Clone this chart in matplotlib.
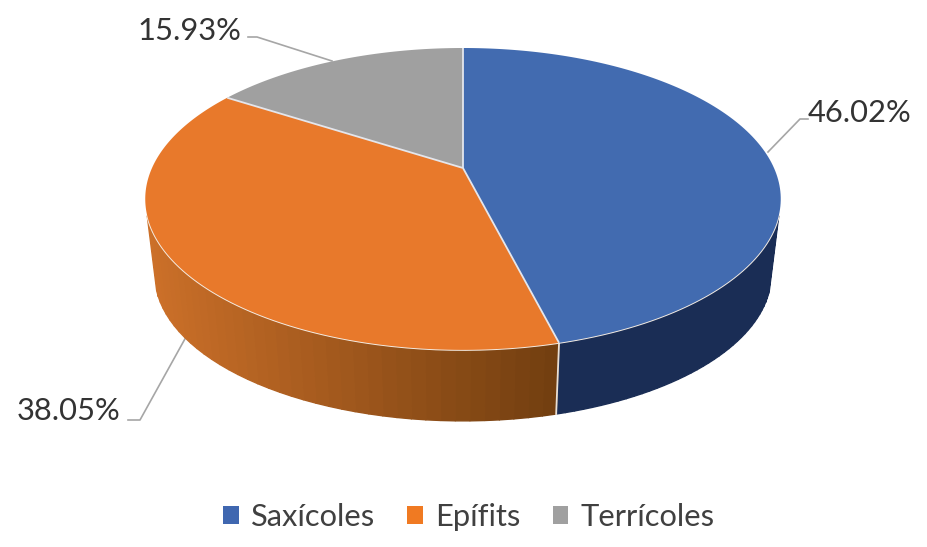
import numpy as np
import matplotlib
matplotlib.use('Agg')
import matplotlib.pyplot as plt
from matplotlib.patches import Patch
from matplotlib.colors import to_rgb

labels = ['Saxícoles', 'Epífits', 'Terrícoles']
values = [46.02, 38.05, 15.93]
value_text = ['46.02%', '38.05%', '15.93%']
top_colors = ['#426BB0', '#E8792B', '#A0A0A0']
wall_left = ['#1A2D55', '#CC7029', '#8a8a8a']
wall_right = ['#1A2D55', '#733F10', '#8a8a8a']
legend_colors = ['#3F67B0', '#F07A22', '#A0A0A0']

text_color = '#333333'
line_color = '#A6A6A6'

plt.rcParams['font.family'] = ['Lato', 'DejaVu Sans']


def project(theta):
    # clockwise from the top, tilted disc seen in perspective
    k = 0.205
    x = np.sin(theta)
    y = np.cos(theta)
    w = 1 + k * y
    return 463 + 311 * x / w, 168 - 144.6 * y / w


def lower(px, py):
    return 463 + 0.97 * (px - 463), 0.97 * py + 81.5


fig = plt.figure(figsize=(9.28, 5.47), dpi=100)
ax = fig.add_axes([0, 0, 1, 1])
ax.set_xlim(0, 928)
ax.set_ylim(547, 0)
ax.axis('off')

edges = np.radians(np.concatenate([[0], np.cumsum(values)]) * 3.6)

# side walls, only the near part shows
for i in range(len(values)):
    t0 = max(edges[i], np.radians(108))
    t1 = min(edges[i + 1], np.radians(252))
    if t1 <= t0:
        continue
    ts = np.linspace(t0, t1, 40)
    px, py = project(ts)
    qx, qy = lower(px, py)
    c0 = np.array(to_rgb(wall_left[i]))
    c1 = np.array(to_rgb(wall_right[i]))
    for j in range(len(ts) - 1):
        f = (px[j] - px.min()) / max(px.max() - px.min(), 1)
        col = c0 * (1 - f) + c1 * f
        ax.fill([px[j], px[j + 1], qx[j + 1], qx[j]], [py[j], py[j + 1], qy[j + 1], qy[j]],
                color=col, lw=1.0, zorder=2)

# light edge between the two front walls
sx, sy = project(edges[1])
bx, by = lower(sx, sy)
ax.plot([sx, bx], [sy, by], color='#E8DFD6', lw=1.3, zorder=3)

# rim highlight
ts = np.linspace(np.radians(108), np.radians(252), 200)
px, py = project(ts)
ax.plot(px, py, color='#F5EDE4', lw=1.4, zorder=3)

# top faces
for i in range(len(values)):
    ts = np.linspace(edges[i], edges[i + 1], 150)
    px, py = project(ts)
    ax.fill(np.r_[463, px], np.r_[168, py], color=top_colors[i], lw=0, zorder=4)

# white separators
for e in edges[:3]:
    px, py = project(e)
    ax.plot([463, px], [168, py], color='#E4E6EC', lw=1.3, zorder=5, solid_capstyle='butt')

# leader lines and value labels
ax.plot([768, 800, 808], [152, 119, 119], color=line_color, lw=1.2, zorder=1)
ax.plot([186, 140, 128], [337, 420, 420], color=line_color, lw=1.2, zorder=1)
ax.plot([332, 257, 248], [61, 37, 37], color=line_color, lw=1.2, zorder=1)

ax.text(808, 113, value_text[0], fontsize=22.2, color=text_color, va='center', ha='left')
ax.text(120, 411, value_text[1], fontsize=22.2, color=text_color, va='center', ha='right')
ax.text(241, 31, value_text[2], fontsize=22.2, color=text_color, va='center', ha='right')

handles = [Patch(facecolor=c, edgecolor='none', label=l) for c, l in zip(legend_colors, labels)]
ax.legend(handles=handles, loc='center', bbox_to_anchor=(469 / 928, 1 - 517 / 547), ncols=3,
          frameon=False, fontsize=22.2, labelcolor='#404040', handlelength=0.5, handleheight=0.5,
          handletextpad=0.4, columnspacing=1.05, borderpad=0)

fig.savefig('out.png', dpi=100)
